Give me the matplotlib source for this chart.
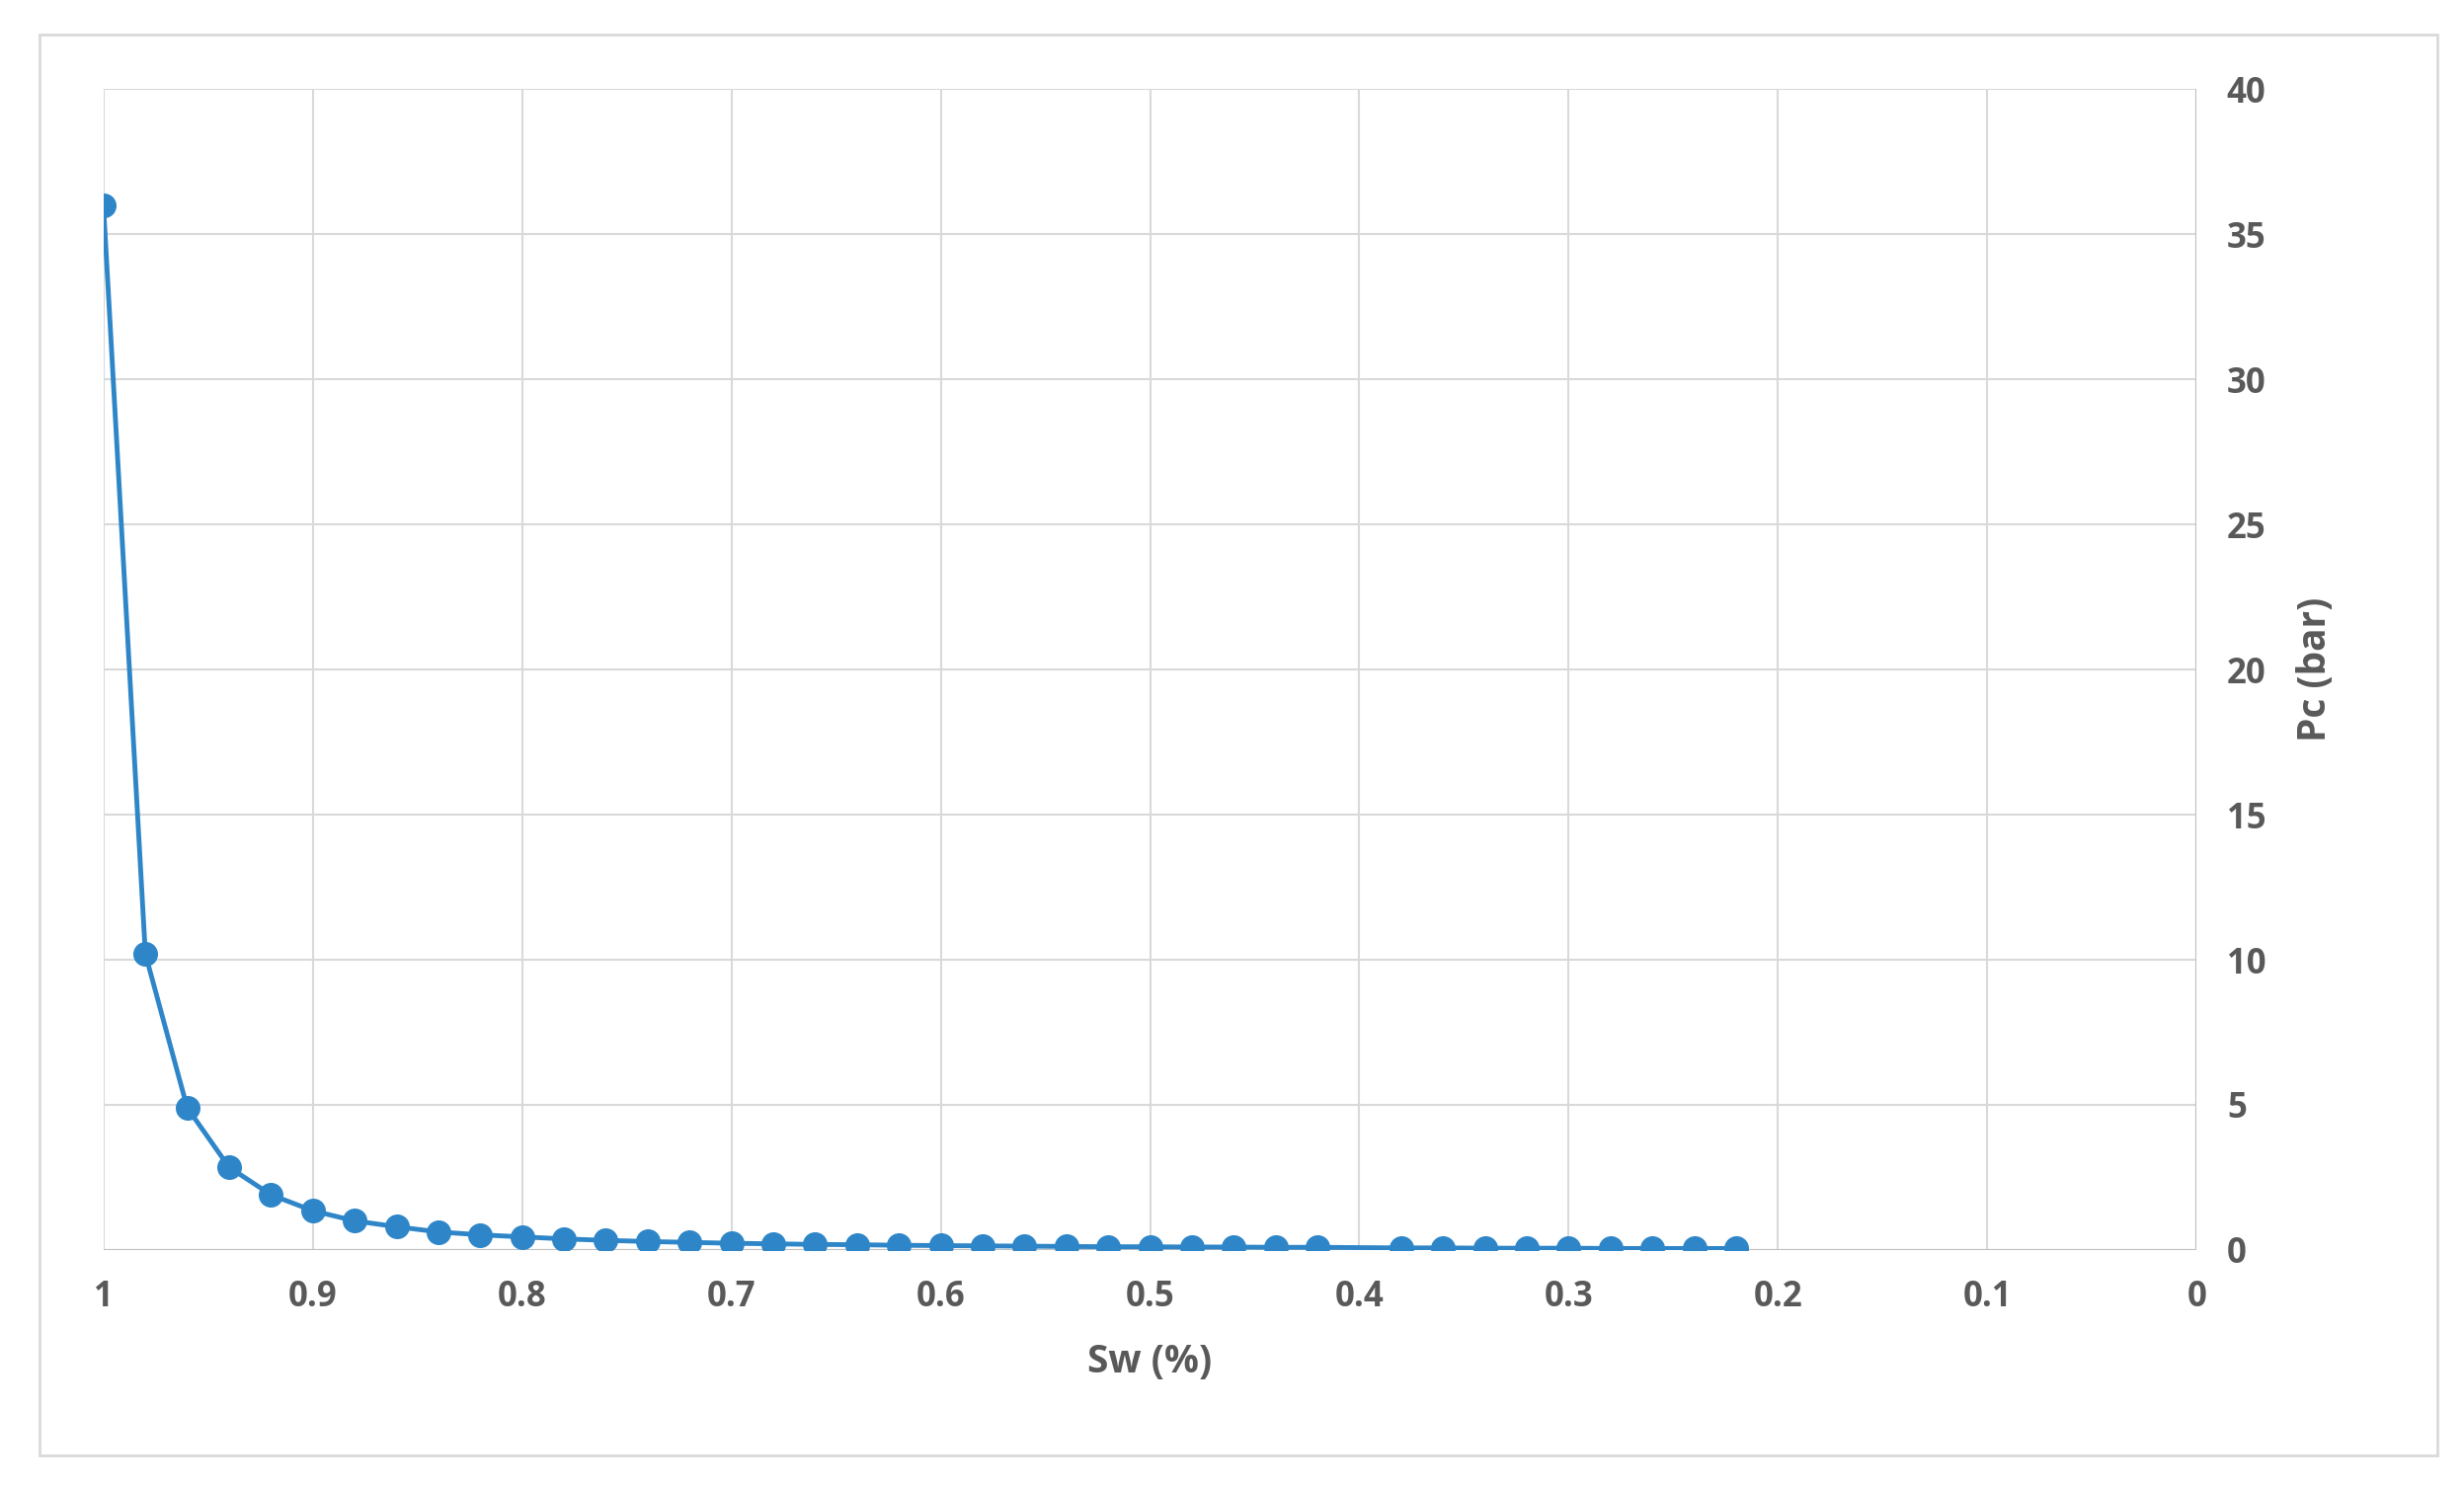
import matplotlib
matplotlib.use("Agg")
import matplotlib.pyplot as plt
from matplotlib.patches import Rectangle

# Capillary pressure curve data.
sw = [1.00, 0.98, 0.96, 0.94, 0.92, 0.90, 0.88, 0.86, 0.84, 0.82, 0.80,
      0.78, 0.76, 0.74, 0.72, 0.70, 0.68, 0.66, 0.64, 0.62, 0.60, 0.58,
      0.56, 0.54, 0.52, 0.50, 0.48, 0.46, 0.44, 0.42, 0.38, 0.36, 0.34,
      0.32, 0.30, 0.28, 0.26, 0.24, 0.22]
pc = [36.0, 10.2, 4.9, 2.85, 1.9, 1.35, 1.0, 0.8, 0.62, 0.52, 0.45,
      0.38, 0.33, 0.29, 0.26, 0.23, 0.21, 0.19, 0.18, 0.16, 0.15, 0.14,
      0.13, 0.12, 0.11, 0.11, 0.10, 0.10, 0.09, 0.09, 0.07, 0.07, 0.06,
      0.06, 0.06, 0.05, 0.05, 0.05, 0.05]

BLUE = "#2E86C8"
GREY = "#595959"
plt.rcParams["font.family"] = ["Open Sans", "DejaVu Sans"]

fig = plt.figure(figsize=(24.95, 15.07), dpi=100)
fig.patches.append(Rectangle((0.016, 0.022), 0.973, 0.955, transform=fig.transFigure,
                             fill=False, edgecolor="#D9D9D9", linewidth=2))
ax = fig.add_axes([0.042, 0.16, 0.8495, 0.78])

ax.plot(sw, pc, color=BLUE, linewidth=3.5, marker="o", markersize=17, zorder=3)

ax.set_xlim(1, 0)
ax.set_ylim(0, 40)
ax.set_xticks([1, 0.9, 0.8, 0.7, 0.6, 0.5, 0.4, 0.3, 0.2, 0.1, 0])
ax.set_xticklabels(["1", "0.9", "0.8", "0.7", "0.6", "0.5", "0.4", "0.3", "0.2", "0.1", "0"])
ax.set_yticks(range(0, 41, 5))
ax.yaxis.tick_right()
ax.yaxis.set_label_position("right")
ax.grid(True, color="#D9D9D9", linewidth=1.5)
ax.set_axisbelow(True)
for side in ["top", "left", "bottom", "right"]:
    ax.spines[side].set_visible(False)
ax.axhline(0, color="#BFBFBF", linewidth=1.5, zorder=1)
ax.axvline(0, color="#BFBFBF", linewidth=1.5, zorder=1)
ax.tick_params(length=0, labelsize=25, labelcolor=GREY, pad=22)
for lab in ax.get_xticklabels() + ax.get_yticklabels():
    lab.set_fontweight("bold")

ax.set_xlabel("Sw (%)", fontsize=28, fontweight="bold", color=GREY, labelpad=20)
ax.set_ylabel("Pc (bar)", fontsize=28, fontweight="bold", color=GREY, labelpad=22, rotation=90)

fig.savefig("out.png", dpi=100, facecolor="white")
